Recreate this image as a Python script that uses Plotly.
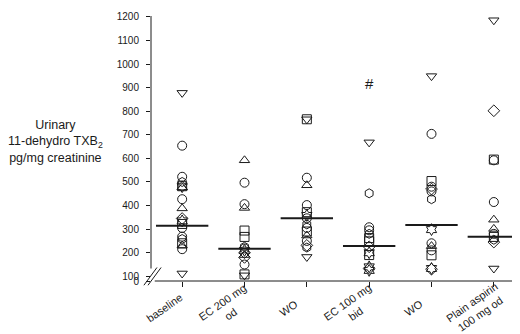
import plotly.graph_objects as go

# ---------------- data ----------------
categories = ["baseline", "EC 200 mg<br>od", "WO", "EC 100 mg<br>bid", "WO", "Plain aspirin<br>100 mg od"]

baseline_vals = [878, 654, 522, 500, 482, 480, 476, 427, 388, 345, 335, 322, 305, 268, 258, 240, 230, 215, 112]
ec200_vals = [592, 497, 406, 390, 294, 267, 225, 218, 210, 200, 190, 180, 150, 108, 104]
wo1_vals = [766, 766, 518, 486, 402, 372, 358, 346, 320, 305, 290, 273, 250, 231, 222, 182]
ec100_vals = [668, 452, 308, 295, 280, 262, 248, 225, 200, 190, 140, 133, 125]
wo2_vals = [949, 704, 504, 480, 470, 460, 427, 298, 240, 228, 210, 189, 133, 130]
aspirin_vals = [1186, 802, 595, 592, 415, 340, 301, 280, 267, 255, 245, 133]

medians = [314, 217, 346, 228, 318, 268]

hash_value = 910  # "#" marker above EC 100 mg bid
hash_category = 3

y_tick_vals = [80, 100, 200, 300, 400, 500, 600, 700, 800, 900, 1000, 1100, 1200]
y_tick_text = ["0", "100", "200", "300", "400", "500", "600", "700", "800", "900", "1000", "1100", "1200"]

# ---------------- styles ----------------
sym_map = {"c": "circle-open", "t": "triangle-up-open", "v": "triangle-down-open",
           "s": "square-open", "d": "diamond-open", "h": "hexagon-open", "x": "hexagram-open"}
baseline_sym = list("vcchsxtctdxscchstcv")
ec200_sym = list("tcctsshcxdtdcsv")
wo1_sym = list("svctcsxchcstcdhv")
ec100_sym = list("vhcchssdxsxdx")
wo2_sym = list("vcscdchxctcsxd")
aspirin_sym = list("vdsccttcshdv")

all_vals = [baseline_vals, ec200_vals, wo1_vals, ec100_vals, wo2_vals, aspirin_vals]
all_syms = [baseline_sym, ec200_sym, wo1_sym, ec100_sym, wo2_sym, aspirin_sym]

FONT = "Arial, Liberation Sans, sans-serif"
INK = "#1a1a1a"

fig = go.Figure()
for i, (vals, syms) in enumerate(zip(all_vals, all_syms)):
    syms = (syms + ["c"] * len(vals))[:len(vals)]
    fig.add_trace(go.Scatter(
        x=[i] * len(vals), y=vals, mode="markers",
        marker=dict(symbol=[sym_map[s] for s in syms], size=9, color=INK,
                    line=dict(width=1, color=INK)),
        showlegend=False, cliponaxis=False))

fig.add_trace(go.Scatter(x=[hash_category], y=[hash_value], mode="text", text=["#"],
                         textfont=dict(family=FONT, size=15, color=INK), showlegend=False))

# median lines
for i, m in enumerate(medians):
    fig.add_shape(type="line", xref="x", yref="y", x0=i - 0.42, x1=i + 0.42, y0=m, y1=m,
                  line=dict(color=INK, width=2))

# axis lines (with break)
fig.add_shape(type="line", xref="paper", yref="y", x0=0, x1=0, y0=133, y1=1204,
              line=dict(color=INK, width=1))
fig.add_shape(type="line", xref="paper", yref="paper", x0=0.01, x1=1, y0=0, y1=0,
              line=dict(color=INK, width=1))
for dx in [0, 0.011]:
    fig.add_shape(type="line", xref="paper", yref="paper",
                  x0=-0.019 + dx, x1=0.016 + dx, y0=-0.016, y1=0.051,
                  line=dict(color=INK, width=1))

# category labels
for i, lab in enumerate(categories):
    fig.add_annotation(x=i, y=0, xref="x", yref="paper", text=lab, showarrow=False,
                       textangle=-35, xanchor="center", yanchor="middle", align="center",
                       xshift=-18, yshift=-27, font=dict(family=FONT, size=11, color=INK))

# y title
fig.add_annotation(x=-0.256, y=0.526, xref="paper", yref="paper",
                   text="Urinary<br>11-dehydro TXB<sub>2</sub><br>pg/mg creatinine",
                   showarrow=False, xanchor="center", yanchor="middle", align="center",
                   font=dict(family=FONT, size=12.5, color=INK))

fig.update_layout(
    width=520, height=334,
    margin=dict(l=143, r=3, t=5, b=61),
    paper_bgcolor="white", plot_bgcolor="white",
    xaxis=dict(range=[-0.5, 5.5], tickvals=list(range(len(categories))), showticklabels=False,
               ticks="outside", ticklen=5, tickcolor=INK, showgrid=False, zeroline=False,
               showline=False),
    yaxis=dict(range=[80, 1204], tickvals=y_tick_vals, ticktext=y_tick_text,
               ticks="outside", ticklen=4, tickcolor=INK, showgrid=False, zeroline=False,
               showline=False, ticklabelstandoff=5,
               tickfont=dict(family=FONT, size=10, color=INK)),
)

fig.write_html("out.html")
